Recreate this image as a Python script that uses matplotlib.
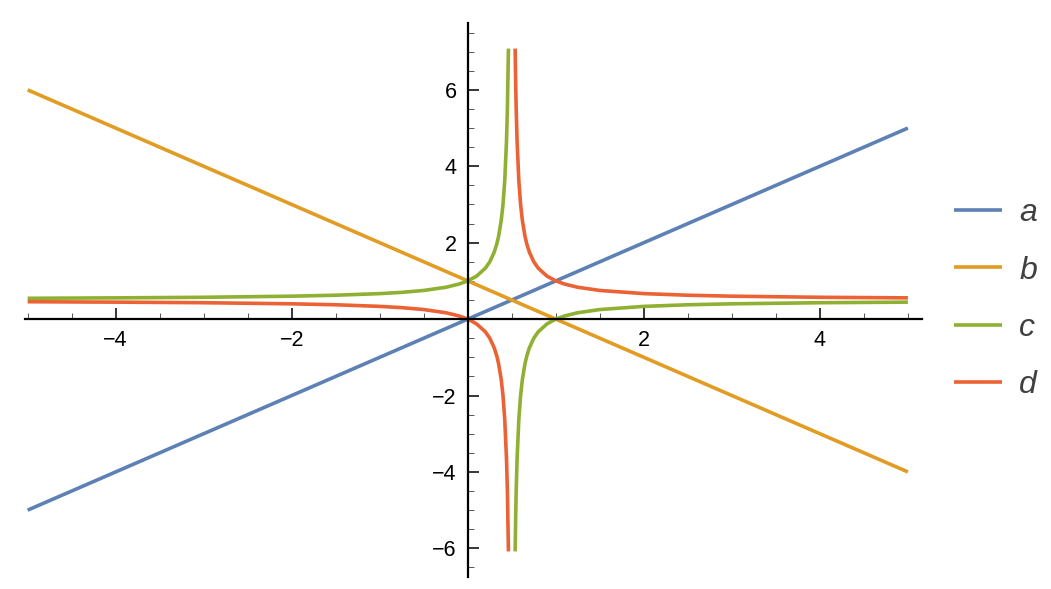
import matplotlib
matplotlib.use("Agg")
from matplotlib import pyplot as plt
from matplotlib.ticker import MultipleLocator

plt.rcParams['font.family'] = ['Liberation Sans', 'DejaVu Sans']

# series values
labels = ['a', 'b', 'c', 'd']
colors = ['#5e81b5', '#e19c24', '#8fb032', '#eb6235']

a_x = [-5, 5]
a_y = [-5, 5]

b_x = [-5, 5]
b_y = [6, -4]

# left branch (x < 0.5)
left_x = [-5, -4, -3, -2, -1.5, -1, -0.75, -0.5, -0.25, -0.1, 0, 0.1, 0.2, 0.25,
          0.3, 0.33, 0.35, 0.38, 0.4, 0.42, 0.44, 0.45, 0.455, 0.462]
c_left = [0.545, 0.556, 0.571, 0.6, 0.625, 0.667, 0.7, 0.75, 0.833, 0.917, 1.0,
          1.125, 1.333, 1.5, 1.75, 1.97, 2.167, 2.583, 3.0, 3.625, 4.667, 5.5,
          6.19, 7.08]
d_left = [0.455, 0.444, 0.429, 0.4, 0.375, 0.333, 0.3, 0.25, 0.167, 0.083, 0.0,
          -0.125, -0.333, -0.5, -0.75, -0.97, -1.167, -1.583, -2.0, -2.625,
          -3.667, -4.5, -5.19, -6.08]

# right branch (x > 0.5)
right_x = [0.538, 0.545, 0.55, 0.56, 0.58, 0.6, 0.62, 0.65, 0.67, 0.7, 0.75, 0.8,
           0.9, 1, 1.1, 1.25, 1.5, 2, 2.5, 3, 4, 5]
c_right = [-6.08, -5.06, -4.5, -3.667, -2.625, -2.0, -1.583, -1.167, -0.97, -0.75,
           -0.5, -0.333, -0.125, 0.0, 0.083, 0.167, 0.25, 0.333, 0.375, 0.4,
           0.429, 0.444]
d_right = [7.08, 6.06, 5.5, 4.667, 3.625, 3.0, 2.583, 2.167, 1.97, 1.75, 1.5, 1.333,
           1.125, 1.0, 0.917, 0.833, 0.75, 0.667, 0.625, 0.6, 0.571, 0.556]

fig = plt.figure(figsize=(10.51, 5.89), dpi=100)
ax = fig.add_axes([25 / 1051, 12 / 589, 897 / 1051, 554 / 589])

lw = 2.6
ax.plot(a_x, a_y, color=colors[0], lw=lw, label=labels[0], solid_capstyle='butt')
ax.plot(b_x, b_y, color=colors[1], lw=lw, label=labels[1], solid_capstyle='butt')
ax.plot(left_x, c_left, color=colors[2], lw=lw, label=labels[2], solid_capstyle='butt')
ax.plot(right_x, c_right, color=colors[2], lw=lw, solid_capstyle='butt')
ax.plot(left_x, d_left, color=colors[3], lw=lw, label=labels[3], solid_capstyle='butt')
ax.plot(right_x, d_right, color=colors[3], lw=lw, solid_capstyle='butt')

ax.set_xlim(-5.03, 5.16)
ax.set_ylim(-6.75, 7.75)

# axes through the origin
for s in ['top', 'right']:
    ax.spines[s].set_visible(False)
ax.spines['left'].set_position(('data', 0))
ax.spines['bottom'].set_position(('data', 0))
ax.spines['left'].set_linewidth(1.6)
ax.spines['bottom'].set_linewidth(1.6)

ax.xaxis.set_major_locator(MultipleLocator(2))
ax.xaxis.set_minor_locator(MultipleLocator(0.5))
ax.yaxis.set_major_locator(MultipleLocator(2))
ax.yaxis.set_minor_locator(MultipleLocator(0.5))
ax.tick_params(which='major', direction='in', length=8, width=1.1, labelsize=15.5, pad=8)
ax.tick_params(which='minor', direction='in', length=4, width=0.7, color='#555555')

fmt = lambda v, p: '' if abs(v) < 1e-9 else ('\u2212%d' % abs(v) if v < 0 else '%d' % v)
ax.xaxis.set_major_formatter(fmt)
ax.yaxis.set_major_formatter(fmt)

leg = fig.legend(loc='center left', bbox_to_anchor=(925 / 1051, 0.492), frameon=False,
                 handlelength=1.5, handletextpad=0.55, labelspacing=0.85,
                 prop={'style': 'italic', 'size': 23})
for t in leg.get_texts():
    t.set_color('#404040')

fig.savefig('out.png', dpi=100)
